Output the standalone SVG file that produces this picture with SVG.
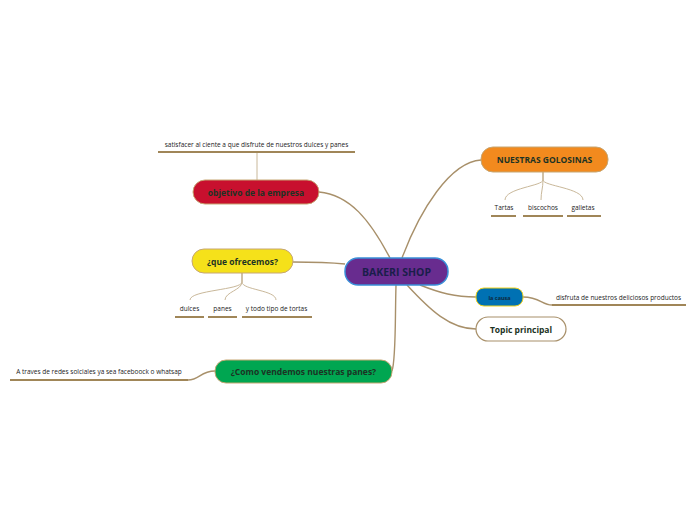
<svg xmlns="http://www.w3.org/2000/svg" width="696" height="520" viewBox="0 0 696 520">
<style>
.c{fill:none;stroke:#a8906a;stroke-width:1.4}
.s{fill:none;stroke:#c9b89a;stroke-width:1}
.u{stroke:#a08658;stroke-width:2}
.t{font-family:"Open Sans","Noto Sans",sans-serif;font-weight:bold;text-anchor:middle;fill:#1c3324}
.l{font-family:"Open Sans","Noto Sans",sans-serif;font-size:6.5px;fill:#222;text-anchor:middle}
</style>
<rect width="696" height="520" fill="#fff"/>
<g id="connectors">
<path class="c" d="M390,258 C370,220 350,195 319,192"/>
<path class="c" d="M402,258 C420,210 450,162 481,160"/>
<path class="c" d="M345,264 C325,262 310,262 293,262"/>
<path class="c" d="M420,285 C440,293 455,297 476,297"/>
<path class="c" d="M407,285 C430,310 450,329 476,329"/>
<path class="c" d="M396,285 C395,320 396,360 392,371"/>
<path class="s" d="M257,180 L257,152"/>
<path class="s" d="M543,172 L543,180 C543,186 505,188 505,200"/>
<path class="s" d="M543,172 L543,180 C543,188 541,192 541,200"/>
<path class="s" d="M543,172 L543,180 C543,186 583,188 583,200"/>
<path class="s" d="M242,273 L242,282 C242,290 190,290 190,300"/>
<path class="s" d="M242,273 L242,282 C242,290 225,292 225,300"/>
<path class="s" d="M242,273 L242,282 C242,290 276,290 276,300"/>
<path class="c" d="M523,297 C540,297 542,305 552,305"/>
<path class="c" d="M215,371 C200,371 200,380 188,380"/>
</g>
<g id="center">
<rect x="345" y="258" width="103" height="27" rx="13" fill="#682c8f" stroke="#3a8fd8" stroke-width="1.5"/>
<text class="t" x="396.5" y="275.5" font-size="10.5" fill="#1a1e4a" style="fill:#1a1e4a">BAKERI SHOP</text>
</g>
<g id="golosinas">
<rect x="481" y="147" width="127" height="25" rx="12" fill="#f28a1e" stroke="#c6a673" stroke-width="1"/>
<text class="t" x="544.5" y="163" font-size="8.5">NUESTRAS GOLOSINAS</text>
</g>
<g id="tartas"><text class="l" x="504" y="210">Tartas</text><line class="u" x1="491" y1="216" x2="516" y2="216"/></g>
<g id="biscochos"><text class="l" x="543" y="210">biscochos</text><line class="u" x1="523" y1="216" x2="563" y2="216"/></g>
<g id="galletas"><text class="l" x="583" y="210">galletas</text><line class="u" x1="567" y1="216" x2="601" y2="216"/></g>
<g id="objetivo">
<rect x="193" y="180" width="126" height="24" rx="12" fill="#c8102e" stroke="#c6a673" stroke-width="1"/>
<text class="t" x="256" y="195.5" font-size="8.5">objetivo de la empresa</text>
</g>
<g id="satisfacer"><text class="l" x="256.5" y="147" style="text-anchor:middle">satisfacer al ciente a que  disfrute de nuestros  dulces y panes</text><line class="u" x1="158" y1="152" x2="355" y2="152"/></g>
<g id="ofrecemos">
<rect x="192" y="249" width="101" height="24" rx="12" fill="#f5e11a" stroke="#c6a673" stroke-width="1"/>
<text class="t" x="242.5" y="264.5" font-size="8.5">¿que ofrecemos?</text>
</g>
<g id="dulces"><text class="l" x="189.5" y="311">dulces</text><line class="u" x1="175" y1="317" x2="204" y2="317"/></g>
<g id="panes"><text class="l" x="222.5" y="311">panes</text><line class="u" x1="208" y1="317" x2="237" y2="317"/></g>
<g id="tortas"><text class="l" x="276.5" y="311">y todo tipo de tortas</text><line class="u" x1="242" y1="317" x2="312" y2="317"/></g>
<g id="causa">
<rect x="476" y="288" width="47" height="18" rx="8" fill="#0071b3" stroke="#f0d21a" stroke-width="1"/>
<text class="t" x="499.5" y="299.5" font-size="5.5" style="fill:#0d2a40">la causa</text>
</g>
<g id="disfruta"><text class="l" x="618.5" y="300">disfruta de nuestros deliciosos productos</text><line class="u" x1="552" y1="305" x2="686" y2="305"/></g>
<g id="topic">
<rect x="476" y="317" width="90" height="24" rx="12" fill="#fff" stroke="#a8906a" stroke-width="1.2"/>
<text class="t" x="521" y="332.5" font-size="8.5">Topic principal</text>
</g>
<g id="vendemos">
<rect x="215" y="360" width="177" height="23" rx="11" fill="#00a651" stroke="#c6a673" stroke-width="1"/>
<text class="t" x="303.5" y="375" font-size="8.5">¿Como vendemos nuestras panes?</text>
</g>
<g id="redes"><text class="l" x="99" y="374">A traves de redes solciales ya sea faceboock o whatsap</text><line class="u" x1="10" y1="380" x2="188" y2="380"/></g>
</svg>
